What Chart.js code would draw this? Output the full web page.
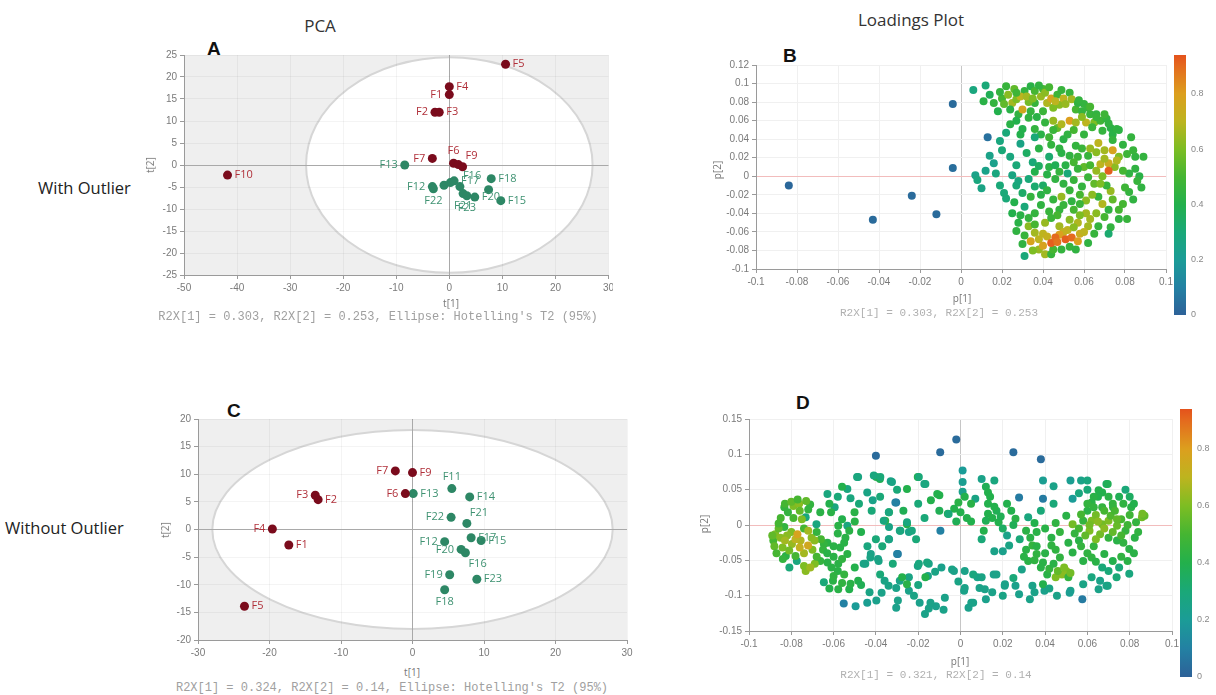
<!DOCTYPE html>
<html>
<head>
<meta charset="utf-8">
<title>PCA scores and loadings</title>
<script src="https://cdn.jsdelivr.net/npm/chart.js@4.4.1/dist/chart.umd.min.js"></script>
<style>
  html, body { margin: 0; padding: 0; background: #fff; }
  body { width: 1216px; height: 695px; position: relative; overflow: hidden; font-family: "Open Sans", sans-serif; }
  canvas { position: absolute; }
  .txt  { position: absolute; white-space: nowrap; }
  .head { font-size: 17px; color: #333; transform: translate(-50%, -50%); }
  .row  { font-size: 16.5px; color: #222; transform: translateY(-50%); }
  .tag  { font-family: "Liberation Sans", Arial, sans-serif; font-weight: bold; font-size: 19px; color: #111; transform: translateY(-50%); }
  .axt  { font-size: 10px; color: #777; transform: translate(-50%, -50%); }
  .axt.rot { transform: translate(-50%, -50%) rotate(-90deg); }
  .cap  { font-family: "Liberation Mono", monospace; font-size: 12px; color: #a0a0a0; transform: translate(-50%, -50%); }
  .cap.sm { font-size: 11px; color: #b0b0b0; }
</style>
</head>
<body>

<div class="txt head" style="left:320px;top:25px">PCA</div>
<div class="txt head" style="left:911px;top:19px">Loadings Plot</div>
<div class="txt row" style="left:38px;top:187px">With Outlier</div>
<div class="txt row" style="left:5px;top:527px">Without Outlier</div>

<div class="txt tag" style="left:207px;top:49px">A</div>
<div class="txt tag" style="left:783px;top:56px">B</div>
<div class="txt tag" style="left:227px;top:411px">C</div>
<div class="txt tag" style="left:796px;top:403px">D</div>

<canvas id="chartA" width="473" height="255" style="left:140px;top:45px"></canvas>
<canvas id="chartB" width="516" height="280" style="left:700px;top:45px"></canvas>
<canvas id="chartC" width="490" height="260" style="left:150px;top:405px"></canvas>
<canvas id="chartD" width="521" height="300" style="left:695px;top:395px"></canvas>

<div class="txt axt" style="left:451px;top:303px">t[1]</div>
<div class="txt axt rot" style="left:150px;top:165px">t[2]</div>
<div class="txt cap" style="left:378px;top:317px">R2X[1] = 0.303, R2X[2] = 0.253, Ellipse: Hotelling's T2 (95%)</div>

<div class="txt axt" style="left:962px;top:298px">p[1]</div>
<div class="txt axt rot" style="left:717px;top:170px">p[2]</div>
<div class="txt cap sm" style="left:939px;top:313px">R2X[1] = 0.303, R2X[2] = 0.253</div>

<div class="txt axt" style="left:412px;top:672px">t[1]</div>
<div class="txt axt rot" style="left:165px;top:530px">t[2]</div>
<div class="txt cap" style="left:392px;top:688px">R2X[1] = 0.324, R2X[2] = 0.14, Ellipse: Hotelling's T2 (95%)</div>

<div class="txt axt" style="left:960px;top:661px">p[1]</div>
<div class="txt axt rot" style="left:704px;top:524px">p[2]</div>
<div class="txt cap sm" style="left:936px;top:675px">R2X[1] = 0.321, R2X[2] = 0.14</div>

<script>
// ─────────────────────────────────────────────
// Scores, all samples (A)
// ─────────────────────────────────────────────
const aRedNames   = ['F1', 'F2', 'F3', 'F4', 'F5', 'F6', 'F7', 'F8', 'F9', 'F10'];
const aRedT1      = [0, -2.7, -1.9, 0, 10.6, 0.8, -3.2, 1.7, 2.5, -41.8];
const aRedT2      = [16, 12, 12, 17.8, 22.9, 0.4, 1.5, 0.1, -0.4, -2.3];
const aGreenNames = ['F11', 'F12', 'F13', 'F14', 'F15', 'F16', 'F17', 'F18', 'F19', 'F20', 'F21', 'F22', 'F23'];
const aGreenT1    = [-1.0, -3.2, -8.4, 0.2, 9.7, 2.0, 0.9, 7.9, 7.4, 4.8, 2.6, -3.0, 3.3];
const aGreenT2    = [-4.6, -4.9, 0, -4.0, -8.1, -4.9, -3.6, -3.1, -5.6, -7.3, -6.5, -5.4, -7.0];
const aTicksX     = [-50, -40, -30, -20, -10, 0, 10, 20, 30];
const aTicksY     = [-25, -20, -15, -10, -5, 0, 5, 10, 15, 20, 25];
const aEllipse    = [27, 24.5];   // Hotelling's T2 (95%) semi-axes, t[1] / t[2]
const aLabelSide  = { F1: 'l', F2: 'l', F6: 't', F7: 'l', F8: 'none', F9: 'tr',
                      F11: 'none', F12: 'l', F13: 'l', F14: 'none', F16: 'tr', F19: 'none',
                      F21: 'b', F22: 'b', F23: 'b' };

// ─────────────────────────────────────────────
// Scores, F10 removed (C)
// ─────────────────────────────────────────────
const cRedNames   = ['F1', 'F2', 'F3', 'F4', 'F5', 'F6', 'F7', 'F9'];
const cRedT1      = [-17.3, -13.2, -13.6, -19.6, -23.5, -1.0, -2.4, 0];
const cRedT2      = [-2.8, 5.4, 6.2, 0.1, -13.9, 6.5, 10.6, 10.3];
const cGreenNames = ['F11', 'F12', 'F13', 'F14', 'F15', 'F16', 'F17', 'F18', 'F19', 'F20', 'F21', 'F22', 'F23'];
const cGreenT1    = [5.5, 4.5, 0.1, 8.0, 9.6, 7.4, 8.2, 4.5, 5.2, 6.8, 7.6, 5.4, 9.0];
const cGreenT2    = [7.4, -2.2, 6.5, 5.9, -2.0, -4.2, -1.5, -10.9, -8.2, -3.6, 1.1, 2.2, -9.0];
const cTicksX     = [-30, -20, -10, 0, 10, 20, 30];
const cTicksY     = [-20, -15, -10, -5, 0, 5, 10, 15, 20];
const cEllipse    = [28, 18];
const cLabelSide  = { F3: 'l', F4: 'l', F6: 'l', F7: 'l', F11: 't', F12: 'l', F16: 'br',
                      F18: 'b', F19: 'l', F20: 'l', F21: 'tr', F22: 'l' };

// ─────────────────────────────────────────────
// Loadings [p1, p2, colour value] (B: all samples)
// ─────────────────────────────────────────────
const loadingsB = [
  [-0.084,-0.010,0.02],[-0.043,-0.047,0.03],[-0.024,-0.021,0.03],[-0.012,-0.041,0.03],[-0.004,0.078,0.03],
  [-0.004,0.009,0.04],[0.013,0.042,0.05],
  [0.006,0.093,0.28],[0.012,0.098,0.30],[0.011,0.081,0.42],[0.016,0.079,0.45],[0.018,0.070,0.40],[0.020,0.084,0.50],
  [0.022,0.097,0.46],[0.023,0.088,0.62],[0.025,0.079,0.66],[0.027,0.083,0.60],[0.028,0.067,0.44],[0.030,0.072,0.76],
  [0.031,0.092,0.45],[0.034,0.097,0.42],[0.036,0.092,0.50],[0.039,0.086,0.64],[0.042,0.079,0.68],[0.044,0.084,0.78],
  [0.047,0.088,0.48],[0.048,0.077,0.62],[0.036,0.079,0.46],[0.033,0.063,0.44],[0.030,0.051,0.40],[0.036,0.051,0.45],
  [0.039,0.045,0.42],[0.043,0.042,0.48],[0.036,0.042,0.30],[0.026,0.094,0.55],[0.029,0.086,0.70],[0.040,0.094,0.50],
  [0.045,0.074,0.60],[0.050,0.084,0.70],[0.053,0.090,0.46],[0.040,0.070,0.47],[0.024,0.072,0.42],[0.014,0.088,0.38],
  [0.033,0.080,0.58],
  [0.019,0.091,0.45],[0.021,0.078,0.55],[0.027,0.090,0.48],[0.032,0.086,0.66],[0.035,0.084,0.60],[0.038,0.098,0.44],
  [0.041,0.090,0.62],[0.043,0.096,0.50],[0.046,0.081,0.70],[0.049,0.093,0.46],[0.051,0.078,0.64],[0.054,0.083,0.66],
  [0.056,0.072,0.50],[0.060,0.078,0.45],[0.061,0.058,0.70],[0.065,0.058,0.60],[0.068,0.060,0.48],[0.071,0.062,0.45],
  [0.073,0.052,0.42],[0.063,0.067,0.46],[0.034,0.070,0.45],[0.037,0.064,0.42],[0.027,0.060,0.40],[0.041,0.058,0.45],
  [0.047,0.052,0.55],
  [0.045,0.060,0.64],[0.049,0.056,0.68],[0.053,0.060,0.80],[0.056,0.058,0.66],[0.059,0.070,0.45],[0.057,0.079,0.44],
  [0.062,0.074,0.46],[0.066,0.067,0.44],[0.070,0.067,0.48],[0.064,0.053,0.47],[0.069,0.049,0.45],[0.074,0.045,0.42],
  [0.076,0.051,0.44],[0.0575,0.082,0.45],[0.063,0.075,0.50],[0.066,0.064,0.46],[0.072,0.057,0.44],[0.059,0.064,0.62],
  [0.077,0.050,0.43],[0.083,0.042,0.45],[0.085,0.021,0.44],[0.089,0.021,0.45],[0.087,0.000,0.42],[0.088,-0.012,0.44],
  [0.082,-0.017,0.45],[0.079,-0.030,0.50],[0.081,-0.046,0.46],[0.077,-0.046,0.44],[0.073,-0.055,0.45],[0.072,-0.062,0.32],
  [0.082,0.003,0.44],[0.080,-0.012,0.48],[0.075,0.010,0.62],[0.074,0.039,0.45],[0.084,0.028,0.46],
  [0.079,0.034,0.44],[0.081,0.024,0.48],[0.077,0.021,0.60],[0.079,0.006,0.50],[0.085,0.008,0.44],[0.086,-0.005,0.46],
  [0.084,-0.025,0.44],[0.077,-0.036,0.50],[0.074,-0.025,0.55],[0.070,-0.044,0.50],[0.066,-0.040,0.62],[0.069,-0.030,0.68],
  [0.073,-0.016,0.64],[0.065,-0.008,0.55],[0.068,0.013,0.70],[0.072,0.014,0.74],[0.069,0.000,0.60],[0.062,0.022,0.46],
  [0.066,0.026,0.62],[0.059,0.030,0.47],
  [0.019,0.038,0.28],[0.022,0.047,0.30],[0.029,0.035,0.26],[0.024,0.021,0.28],[0.016,0.014,0.24],[0.007,0.001,0.25],
  [0.008,-0.004,0.28],[0.010,-0.013,0.26],[0.017,0.003,0.28],[0.019,-0.010,0.30],[0.025,0.001,0.27],[0.027,-0.010,0.30],
  [0.022,-0.024,0.30],[0.035,0.015,0.30],[0.036,0.005,0.40],[0.036,-0.011,0.32],[0.040,-0.010,0.34],[0.043,0.021,0.32],
  [0.043,0.010,0.42],[0.046,-0.003,0.44],[0.052,0.003,0.30],[0.053,0.022,0.44],[0.056,0.033,0.45],[0.057,0.021,0.47],
  [0.032,0.025,0.35],[0.048,0.030,0.44],[0.046,0.012,0.38],[0.060,0.045,0.45],[0.050,0.040,0.42],[0.033,-0.003,0.30],
  [0.030,-0.018,0.34],[0.014,0.022,0.25],
  [0.012,0.006,0.25],[0.020,0.028,0.30],[0.027,0.012,0.30],[0.029,0.045,0.40],[0.024,0.056,0.42],[0.021,-0.018,0.30],
  [0.026,-0.028,0.40],[0.028,-0.005,0.28],
  [0.042,0.002,0.42],[0.048,0.005,0.45],[0.050,-0.008,0.44],[0.055,-0.004,0.46],[0.051,0.012,0.42],[0.055,0.015,0.50],
  [0.060,0.010,0.55],[0.058,-0.020,0.50],[0.061,-0.026,0.62],[0.039,-0.020,0.42],[0.042,-0.015,0.44],[0.038,0.011,0.35],
  [0.044,0.034,0.45],[0.052,0.045,0.44],[0.055,0.050,0.50],[0.049,0.025,0.42],
  [0.031,-0.033,0.30],[0.034,-0.022,0.45],[0.039,-0.031,0.44],[0.043,-0.038,0.46],[0.048,-0.036,0.45],[0.049,-0.022,0.64],
  [0.053,-0.015,0.46],[0.054,-0.027,0.44],[0.059,-0.011,0.45],[0.062,-0.001,0.47],[0.066,0.006,0.64],[0.070,0.019,0.66],
  [0.074,0.028,0.78],[0.076,0.017,0.68],[0.071,-0.010,0.46],[0.067,-0.022,0.45],[0.072,-0.036,0.44],
  [0.061,-0.040,0.66],[0.057,-0.050,0.68],[0.053,-0.047,0.62],[0.062,-0.054,0.66],[0.067,-0.054,0.45],[0.028,-0.050,0.42],
  [0.027,-0.059,0.44],[0.033,-0.054,0.62],[0.036,-0.061,0.66],[0.034,-0.070,0.78],[0.038,-0.079,0.64],[0.041,-0.084,0.66],
  [0.030,-0.073,0.44],[0.031,-0.086,0.30],[0.049,-0.079,0.45],[0.044,-0.084,0.46],[0.062,-0.072,0.44],[0.041,-0.050,0.64],
  [0.048,-0.054,0.66],[0.064,-0.020,0.62],[0.068,-0.008,0.60],[0.058,-0.030,0.47],[0.045,-0.025,0.45],[0.040,-0.062,0.70],
  [0.052,-0.058,0.70],[0.058,-0.062,0.74],[0.063,0.030,0.64],[0.067,0.036,0.70],[0.070,0.028,0.66],[0.063,0.012,0.50],
  [0.057,0.008,0.46],[0.025,-0.040,0.40],[0.036,-0.040,0.45],[0.038,0.030,0.42],[0.045,0.050,0.47],
  [0.050,-0.031,0.46],[0.047,-0.042,0.50],[0.044,-0.045,0.47],[0.055,-0.036,0.50],[0.058,-0.042,0.60],[0.063,-0.046,0.66],
  [0.060,-0.060,0.70],[0.065,-0.062,0.46],[0.055,-0.055,0.62],[0.050,-0.060,0.72],[0.048,-0.063,0.80],[0.042,-0.065,0.72],
  [0.038,-0.068,0.70],[0.036,-0.052,0.50],[0.033,-0.045,0.45],[0.029,-0.042,0.42],[0.031,-0.064,0.46],[0.035,-0.080,0.60],
  [0.045,-0.079,0.50],[0.053,-0.076,0.46],[0.056,-0.079,0.44],[0.040,-0.075,0.78],
  [0.072,0.006,0.92],[0.044,-0.072,0.92],[0.046,-0.066,0.90],[0.051,-0.068,0.92],[0.054,-0.066,0.90],[0.057,-0.070,0.80],
  [0.047,-0.071,0.88]
];

// ─────────────────────────────────────────────
// Loadings [p1, p2, colour value] (D: F10 removed)
// ─────────────────────────────────────────────
const loadingsD = [
  [-0.040,0.098,0.03],[-0.0096,0.103,0.03],[-0.002,0.121,0.03],[0.025,0.103,0.03],[0.038,0.093,0.03],
  [0.001,0.077,0.20],[0.001,0.061,0.22],[0.001,0.047,0.24],[0.000,0.018,0.40],[-0.001,0.032,0.42],[-0.003,0.023,0.40],
  [-0.006,0.016,0.38],[-0.010,0.042,0.40],[-0.0095,-0.008,0.10],[-0.0056,0.0156,0.30],
  [0.010,0.065,0.25],[0.016,0.063,0.28],[0.012,0.054,0.38],[0.013,0.046,0.40],[0.007,0.037,0.26],[0.013,0.030,0.40],
  [0.013,0.016,0.40],[0.012,0.006,0.38],[0.011,-0.008,0.40],[0.017,0.020,0.38],[0.018,0.004,0.40],[0.024,0.020,0.40],
  [0.026,0.009,0.42],[0.022,-0.015,0.25],[0.023,-0.029,0.26],[0.020,-0.037,0.24],[0.016,-0.037,0.25],[0.0277,0.039,0.08],
  [0.032,0.011,0.28],[0.039,0.063,0.22],[0.039,0.037,0.08],[0.044,0.055,0.25],[0.052,0.063,0.22],[0.053,0.037,0.20],
  [0.057,0.063,0.25],[0.060,0.063,0.28],[0.069,0.058,0.35],[0.067,0.046,0.40],[0.062,0.032,0.42],[0.067,0.025,0.45],
  [0.072,0.030,0.45],[0.050,0.013,0.42],[0.053,0.001,0.58],[0.058,0.006,0.45],[0.062,0.006,0.60],[0.067,0.001,0.58],
  [0.070,0.006,0.60],[0.074,-0.001,0.56],[0.061,-0.008,0.60],[0.066,-0.013,0.58],[0.070,-0.018,0.45],[0.074,-0.022,0.42],
  [0.056,-0.022,0.42],[0.051,-0.025,0.42],[0.053,-0.039,0.42],[0.058,-0.051,0.42],[0.062,-0.046,0.44],[0.068,-0.041,0.42],
  [0.072,-0.051,0.40],[0.067,-0.060,0.30],[0.062,-0.074,0.28],[0.066,-0.079,0.25],[0.069,-0.086,0.25],[0.058,-0.084,0.26],
  [0.052,-0.093,0.25],
  [0.0653,0.049,0.40],[0.0696,0.058,0.38],[0.0721,0.025,0.45],[0.0807,0.025,0.42],[0.0858,0.011,0.58],[0.0824,-0.018,0.42],
  [0.0798,-0.034,0.42],[0.079,-0.051,0.42],[0.0798,-0.069,0.28],[0.0738,-0.074,0.30],[0.0696,-0.086,0.26],[0.0653,-0.091,0.25],
  [0.0576,-0.105,0.08],[0.0516,-0.096,0.22],[0.0456,-0.100,0.25],[0.0397,-0.093,0.24],[0.0328,-0.105,0.25],[0.0277,-0.098,0.24],
  [0.0209,-0.086,0.25],[0.0157,-0.070,0.24],[0.0115,-0.091,0.25],[0.008,-0.074,0.25],[0.0017,-0.093,0.25],[0.0051,-0.110,0.25],
  [0.0038,-0.117,0.24],
  [0.076,0.008,0.50],[0.078,-0.008,0.45],[0.064,0.014,0.58],[0.059,-0.015,0.55],[0.071,0.013,0.52],[0.083,0.004,0.45],
  [0.080,0.014,0.48],[0.077,-0.025,0.44],[0.063,-0.030,0.45],[0.060,0.020,0.42],[0.065,0.040,0.40],[0.075,0.040,0.38],
  [0.078,0.050,0.30],[0.060,0.050,0.30],[0.056,0.045,0.28],
  [0.057,0.015,0.50],[0.060,0.030,0.45],[0.063,0.040,0.42],[0.070,0.040,0.42],[0.073,0.020,0.50],[0.077,0.030,0.44],
  [0.080,0.040,0.35],[0.082,0.030,0.40],[0.084,-0.010,0.44],[0.082,-0.040,0.42],[0.076,-0.045,0.44],[0.075,-0.060,0.30],
  [0.070,-0.065,0.30],[0.064,-0.052,0.42],[0.060,-0.040,0.44],[0.057,-0.030,0.45],[0.064,-0.020,0.60],[0.068,-0.005,0.62],
  [0.072,-0.010,0.55],[0.076,-0.015,0.50],[0.079,0.000,0.48],[0.065,0.005,0.62],[0.061,0.000,0.58],[0.056,-0.005,0.50],
  [0.054,-0.012,0.45],[0.068,0.020,0.50],[0.063,0.025,0.45],[0.074,0.008,0.55],[0.087,0.013,0.55],[0.086,0.016,0.58],
  [0.031,-0.008,0.42],[0.033,-0.018,0.42],[0.034,-0.029,0.45],[0.036,-0.041,0.44],[0.032,-0.051,0.42],[0.039,-0.053,0.42],
  [0.043,-0.029,0.44],[0.043,-0.018,0.42],[0.047,-0.046,0.44],[0.048,-0.070,0.62],[0.045,-0.074,0.60],[0.050,-0.065,0.62],
  [0.051,-0.074,0.45],[0.041,-0.070,0.42],[0.039,-0.084,0.40],[0.034,-0.086,0.25],[0.029,-0.063,0.25],[0.026,-0.086,0.24],
  [0.021,-0.084,0.25],[0.017,-0.070,0.25],[0.010,-0.074,0.26],[0.009,-0.089,0.25],[0.002,-0.065,0.25],[-0.004,-0.063,0.26],
  [-0.009,-0.060,0.24],[0.002,-0.089,0.25],[0.012,-0.105,0.24],[0.006,-0.110,0.25],
  [0.031,-0.035,0.42],[0.035,-0.050,0.44],[0.038,-0.060,0.42],[0.042,-0.062,0.45],[0.044,-0.055,0.42],[0.046,-0.065,0.55],
  [0.049,-0.060,0.60],[0.052,-0.068,0.58],[0.040,-0.040,0.42],[0.045,-0.035,0.44],[0.030,-0.045,0.42],[0.028,-0.020,0.30],
  [0.036,-0.010,0.42],
  [0.035,0.003,0.40],[0.040,-0.005,0.42],[0.045,0.003,0.44],[0.047,-0.010,0.45],[0.038,0.020,0.30],[0.044,0.030,0.30],
  [0.036,-0.030,0.42],
  [0.014,0.040,0.40],[0.015,0.010,0.40],[0.019,0.012,0.38],[0.016,0.026,0.40],[0.022,0.030,0.40],[0.025,0.000,0.38],
  [0.020,-0.005,0.35],[0.010,-0.020,0.30],[0.005,0.005,0.40],[0.003,0.010,0.40],[-0.002,0.005,0.38],[0.002,0.040,0.40],
  [0.005,0.030,0.42],
  [0.006,-0.070,0.28],[-0.001,-0.080,0.26],[0.015,-0.095,0.25],[0.020,-0.100,0.26],[0.035,-0.095,0.25],[0.042,-0.090,0.26],
  [0.025,-0.075,0.30],[-0.012,-0.066,0.26],[-0.020,-0.085,0.28],[-0.022,-0.100,0.26],[-0.034,-0.086,0.26],[-0.038,-0.070,0.30],
  [-0.043,-0.095,0.26],[-0.015,-0.118,0.25],[-0.008,-0.120,0.25],
  [-0.0031,-0.065,0.25],[-0.0074,-0.103,0.25],[-0.0116,-0.115,0.24],[-0.0142,-0.110,0.25],[-0.0168,-0.126,0.25],
  [-0.0193,-0.110,0.24],[-0.015,-0.055,0.25],[-0.0202,-0.058,0.26],[-0.0154,-0.072,0.25],[-0.0244,-0.074,0.26],
  [-0.0244,-0.093,0.25],[-0.0287,-0.079,0.25],[-0.0304,-0.089,0.25],[-0.0304,-0.117,0.24],[-0.0296,-0.107,0.25],
  [-0.0373,-0.096,0.25],[-0.0398,-0.107,0.24],[-0.0441,-0.110,0.22],[-0.0496,-0.115,0.20],[-0.0552,-0.111,0.10],
  [-0.0359,-0.079,0.26],[-0.0424,-0.041,0.25],[-0.045,-0.055,0.26],[-0.039,-0.048,0.25],[-0.0296,-0.041,0.08],
  [-0.0338,-0.020,0.25],[-0.0287,-0.008,0.26],[-0.0244,-0.010,0.25],[-0.0253,0.001,0.40],[-0.0338,-0.003,0.26],
  [-0.0356,0.006,0.42],[-0.0338,0.018,0.40],[-0.0304,0.032,0.08],[-0.0415,0.035,0.25],[-0.0441,0.046,0.26],
  [-0.0398,0.068,0.40],[-0.0381,0.065,0.38],[-0.033,0.062,0.25],[-0.0253,0.051,0.40],[-0.0202,0.068,0.40],
  [-0.0171,0.058,0.26],[-0.0484,0.068,0.26],[-0.0535,0.051,0.28],[-0.056,0.054,0.40],[-0.0629,0.044,0.28],
  [-0.0595,0.025,0.28],[-0.0663,0.018,0.42],[-0.0612,0.018,0.42],[-0.0578,-0.001,0.42],[-0.0535,-0.001,0.28],
  [-0.0526,-0.008,0.42],[-0.0501,0.018,0.42],[-0.0544,-0.018,0.42],[-0.0569,-0.032,0.42],[-0.0535,-0.041,0.42],
  [-0.0578,-0.055,0.42],[-0.0629,-0.053,0.42],[-0.0646,-0.081,0.30],[-0.0603,-0.079,0.42],[-0.0578,-0.091,0.42],
  [-0.0526,-0.091,0.40],[-0.0484,-0.079,0.40],[-0.0732,0.011,0.28],[-0.0681,0.001,0.28],[-0.0629,-0.025,0.42],
  [-0.0663,-0.051,0.45],[-0.0689,-0.055,0.60],[-0.0732,-0.065,0.62],[-0.0774,-0.051,0.28],[-0.0809,-0.060,0.30],
  [-0.0826,-0.044,0.42],[-0.0885,-0.022,0.50],[-0.0876,-0.013,0.60],[-0.0851,-0.018,0.62],[-0.0833,-0.003,0.45],
  [-0.0816,0.018,0.45],[-0.079,0.027,0.60],[-0.0763,0.030,0.62],[-0.0711,0.029,0.45],[-0.0833,0.025,0.45],
  [-0.0756,-0.022,0.68],[-0.0797,-0.027,0.64],[-0.0841,-0.032,0.60],[-0.0704,-0.018,0.62],[-0.0646,-0.027,0.45],
  [-0.080,-0.010,0.60],[-0.078,-0.020,0.70],[-0.074,-0.005,0.50],[-0.086,-0.005,0.55],[-0.082,-0.015,0.62],
  [-0.079,0.010,0.50],[-0.076,0.020,0.55],[-0.070,-0.035,0.60],[-0.074,-0.040,0.66],[-0.066,-0.020,0.50],
  [-0.068,-0.010,0.45],
  [-0.088,-0.030,0.55],[-0.087,-0.040,0.50],[-0.084,-0.048,0.45],[-0.085,0.010,0.50],[-0.083,0.030,0.50],
  [-0.080,0.033,0.55],[-0.077,0.036,0.50],[-0.073,0.034,0.55],[-0.072,0.022,0.45],[-0.075,0.008,0.60],
  [-0.072,-0.008,0.66],[-0.069,-0.022,0.62],[-0.081,-0.036,0.58],[-0.078,-0.044,0.50],[-0.076,-0.032,0.72],
  [-0.083,-0.022,0.66],[-0.089,-0.015,0.55],[-0.086,0.002,0.50],[-0.074,-0.058,0.60],[-0.071,-0.060,0.65],
  [-0.068,-0.045,0.50],[-0.065,-0.035,0.45],
  [-0.063,-0.040,0.42],[-0.060,-0.045,0.42],[-0.056,-0.048,0.44],[-0.058,-0.065,0.42],[-0.055,-0.070,0.45],
  [-0.052,-0.083,0.42],[-0.062,-0.090,0.40],[-0.060,-0.072,0.44],[-0.050,-0.060,0.40],[-0.047,-0.085,0.38],
  [-0.056,-0.082,0.44],[-0.061,-0.060,0.42],
  [-0.058,0.040,0.30],[-0.052,0.038,0.28],[-0.048,0.030,0.30],[-0.062,0.030,0.40],[-0.056,0.008,0.40],
  [-0.050,0.005,0.42],[-0.047,-0.010,0.40],[-0.058,-0.012,0.42],[-0.055,-0.025,0.42],[-0.060,-0.030,0.42],
  [-0.0489,0.068,0.28],[-0.041,0.070,0.28],[-0.0379,0.068,0.30],[-0.0324,0.061,0.26],[-0.0197,0.068,0.30],
  [-0.0166,0.058,0.28],[-0.011,0.044,0.40],[-0.0308,0.032,0.10],[-0.0339,0.018,0.28],[-0.0363,0.006,0.28],
  [-0.0253,0.004,0.28],[-0.023,-0.008,0.28],[-0.0284,-0.008,0.28],[-0.0339,-0.020,0.26],[-0.030,-0.041,0.10],
  [-0.0426,-0.046,0.26],[-0.0387,-0.051,0.26],[-0.0458,-0.055,0.26],[-0.0197,-0.055,0.28],[-0.0158,-0.053,0.28],
  [-0.0166,-0.074,0.40],[-0.0276,-0.074,0.40],[-0.0253,-0.084,0.42],
  [-0.042,0.020,0.30],[-0.038,0.040,0.30],[-0.030,0.050,0.30],[-0.027,0.020,0.38],[-0.020,0.030,0.30],
  [-0.017,0.010,0.30],[-0.021,-0.020,0.30],[-0.040,-0.020,0.30],[-0.044,-0.030,0.28],[-0.037,-0.030,0.30],
  [-0.032,-0.055,0.30],[-0.010,0.020,0.38],[-0.014,0.035,0.40],
  [-0.0771,-0.013,0.78],[-0.0721,-0.029,0.76]
];

const bTicksX = [-0.1, -0.08, -0.06, -0.04, -0.02, 0, 0.02, 0.04, 0.06, 0.08, 0.1];
const bTicksY = [-0.1, -0.08, -0.06, -0.04, -0.02, 0, 0.02, 0.04, 0.06, 0.08, 0.1, 0.12];
const dTicksX = bTicksX;
const dTicksY = [-0.15, -0.1, -0.05, 0, 0.05, 0.1, 0.15];
const barTicks = [0, 0.2, 0.4, 0.6, 0.8];
const barMax   = 0.94;

// colour scale used by the loadings points and the colour bar
const cmapStops = [
  [0.00, '#2d6198'], [0.10, '#2381a3'], [0.20, '#1b9c97'], [0.30, '#1aa878'], [0.40, '#23b04c'],
  [0.50, '#45b532'], [0.60, '#7dbd23'], [0.70, '#bdb41f'], [0.80, '#dc9f1e'], [0.90, '#e46a1e'], [0.94, '#e4521c']
];

function hexRgb(h) {
  return [1, 3, 5].map(i => parseInt(h.slice(i, i + 2), 16));
}

function cmap(v) {
  for (let i = 1; i < cmapStops.length; i++) {
    const [v1, c1] = cmapStops[i];
    if (v <= v1 || i === cmapStops.length - 1) {
      const [v0, c0] = cmapStops[i - 1];
      const t = Math.max(0, Math.min(1, (v - v0) / (v1 - v0)));
      const a = hexRgb(c0), b = hexRgb(c1);
      const m = a.map((x, k) => Math.round(x + (b[k] - x) * t));
      return `rgb(${m[0]},${m[1]},${m[2]})`;
    }
  }
}

const xy = (xs, ys) => xs.map((x, i) => ({ x, y: ys[i] }));
const fmt = v => String(+Number(v).toFixed(2));

// ─────────────────────────────────────────────
// Plugins
// ─────────────────────────────────────────────

// grey plot area with the white T2 ellipse
const scoreBackdrop = {
  id: 'scoreBackdrop',
  beforeDraw(chart, args, opts) {
    if (!opts.radii) return;
    const { ctx, chartArea: a, scales: { x, y } } = chart;
    ctx.save();
    ctx.fillStyle = '#efefef';
    ctx.fillRect(a.left, a.top, a.width, a.height);
    const cx = x.getPixelForValue(0), cy = y.getPixelForValue(0);
    const rx = x.getPixelForValue(opts.radii[0]) - cx;
    const ry = cy - y.getPixelForValue(opts.radii[1]);
    ctx.beginPath();
    ctx.ellipse(cx, cy, rx, ry, 0, 0, Math.PI * 2);
    ctx.fillStyle = '#fff';
    ctx.fill();
    ctx.lineWidth = 2;
    ctx.strokeStyle = '#d6d6d6';
    ctx.stroke();
    ctx.restore();
  }
};

// sample names next to the score points
const pointLabels = {
  id: 'pointLabels',
  afterDatasetsDraw(chart) {
    const ctx = chart.ctx;
    ctx.save();
    ctx.font = '11px "Open Sans"';
    ctx.textBaseline = 'middle';
    chart.data.datasets.forEach((ds, i) => {
      if (!ds.names) return;
      chart.getDatasetMeta(i).data.forEach((el, j) => {
        const side = ds.sides[ds.names[j]] || 'r';
        if (side === 'none') return;
        let tx = el.x, ty = el.y, align = 'left';
        if (side === 'r')  tx += 7;
        if (side === 'l')  { tx -= 7; align = 'right'; }
        if (side === 't')  { ty -= 12; align = 'center'; }
        if (side === 'b')  { ty += 12; align = 'center'; }
        if (side === 'tr') { tx += 3; ty -= 11; }
        if (side === 'br') { tx += 3; ty += 11; }
        ctx.textAlign = align;
        ctx.fillStyle = ds.labelColor;
        ctx.fillText(ds.names[j], tx, ty);
      });
    });
    ctx.restore();
  }
};

// vertical colour bar to the right of the loadings plots
const colorBar = {
  id: 'colorBar',
  afterDraw(chart, args, opts) {
    if (!opts.ticks) return;
    const { ctx, chartArea: a } = chart;
    const x0 = a.right + 8, w = 12, top = a.top - 10, bottom = a.bottom + 46;
    const g = ctx.createLinearGradient(0, bottom, 0, top);
    cmapStops.forEach(([v, c]) => g.addColorStop(Math.min(1, v / opts.max), c));
    ctx.save();
    ctx.fillStyle = g;
    ctx.fillRect(x0, top, w, bottom - top);
    ctx.font = '9px "Liberation Sans"';
    ctx.fillStyle = '#888';
    ctx.textAlign = 'left';
    ctx.textBaseline = 'middle';
    opts.ticks.forEach(v => {
      const yy = bottom - (v / opts.max) * (bottom - top);
      ctx.fillText(String(v), x0 + w + 5, yy);
    });
    ctx.restore();
  }
};

// fixed-size linear axis driven by a tick list
function axis(ticks, isX, size, gridColor, zeroColor) {
  return {
    type: 'linear',
    min: ticks[0],
    max: ticks[ticks.length - 1],
    afterBuildTicks: s => { s.ticks = ticks.map(v => ({ value: v })); },
    afterFit: s => {
      if (isX) s.height = size; else s.width = size;
      s.paddingLeft = s.paddingRight = s.paddingTop = s.paddingBottom = 0;
    },
    grid: {
      color: c => (c.tick && c.tick.value === 0 ? zeroColor : gridColor),
      tickColor: '#9a9a9a',
      tickLength: 4,
      lineWidth: 1
    },
    border: { color: '#9a9a9a' },
    ticks: {
      color: '#7a7a7a',
      font: { family: 'Liberation Sans', size: 10 },
      padding: 3,
      autoSkip: false,
      maxRotation: 0,
      callback: fmt
    }
  };
}

function baseOptions(pad, scales, pluginOpts) {
  return {
    responsive: false,
    animation: false,
    events: [],
    layout: { padding: pad },
    scales,
    plugins: Object.assign({ legend: { display: false }, tooltip: { enabled: false } }, pluginOpts)
  };
}

// ─────────────────────────────────────────────
// Score plots
// ─────────────────────────────────────────────
function scoreChart(id, red, green, sides, ticksX, ticksY, radii, sizes) {
  return new Chart(document.getElementById(id), {
    type: 'scatter',
    data: {
      datasets: [
        { data: xy(red.t1, red.t2), names: red.names, sides, labelColor: '#b0303a',
          backgroundColor: '#7a0b1c', pointRadius: 4.5, borderWidth: 0 },
        { data: xy(green.t1, green.t2), names: green.names, sides, labelColor: '#3f9272',
          backgroundColor: '#2d8765', pointRadius: 4.5, borderWidth: 0 }
      ]
    },
    options: baseOptions(
      { left: 0, top: sizes.top, right: sizes.right, bottom: 0 },
      {
        x: axis(ticksX, true, sizes.xH, 'rgba(0,0,0,0.045)', '#a9a9a9'),
        y: axis(ticksY, false, sizes.yW, 'rgba(0,0,0,0.045)', '#a9a9a9')
      },
      { scoreBackdrop: { radii } }
    ),
    plugins: [scoreBackdrop, pointLabels]
  });
}

scoreChart('chartA',
  { names: aRedNames, t1: aRedT1, t2: aRedT2 },
  { names: aGreenNames, t1: aGreenT1, t2: aGreenT2 },
  aLabelSide, aTicksX, aTicksY, aEllipse,
  { top: 10, right: 2, xH: 25, yW: 44 });

scoreChart('chartC',
  { names: cRedNames, t1: cRedT1, t2: cRedT2 },
  { names: cGreenNames, t1: cGreenT1, t2: cGreenT2 },
  cLabelSide, cTicksX, cTicksY, cEllipse,
  { top: 14, right: 13, xH: 25, yW: 48 });

// ─────────────────────────────────────────────
// Loadings plots
// ─────────────────────────────────────────────
function loadingsChart(id, rows, ticksX, ticksY, sizes) {
  return new Chart(document.getElementById(id), {
    type: 'scatter',
    data: {
      datasets: [{
        data: rows.map(r => ({ x: r[0], y: r[1] })),
        backgroundColor: rows.map(r => cmap(r[2])),
        pointRadius: 4,
        borderWidth: 0
      }]
    },
    options: baseOptions(
      { left: 0, top: sizes.top, right: sizes.right, bottom: 0 },
      {
        x: axis(ticksX, true, sizes.xH, '#f0f0f0', '#c6c6c6'),
        y: axis(ticksY, false, sizes.yW, '#f0f0f0', '#f2bcbc')
      },
      { colorBar: { ticks: barTicks, max: barMax } }
    ),
    plugins: [colorBar]
  });
}

loadingsChart('chartB', loadingsB, bTicksX, bTicksY, { top: 20, right: 50, xH: 56, yW: 56 });
loadingsChart('chartD', loadingsD, dTicksX, dTicksY, { top: 24, right: 44, xH: 64, yW: 54 });
</script>
</body>
</html>
